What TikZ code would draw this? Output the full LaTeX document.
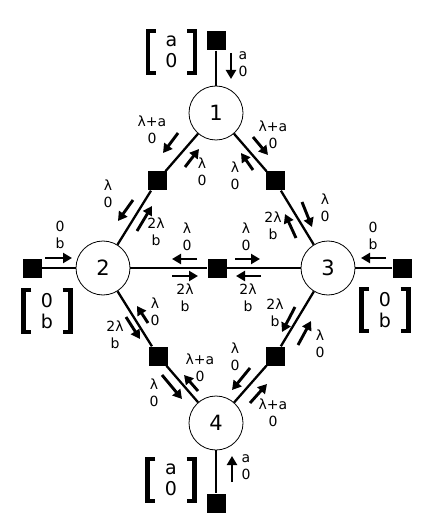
\documentclass[tikz,border=0pt]{standalone}
\usepackage{fontspec}
\setmainfont{DejaVu Sans}
\usetikzlibrary{arrows.meta, calc, positioning}

\tikzset{
  hub/.style={circle, draw, line width=.8pt, fill=white, minimum size=54pt,
    inner sep=0pt, font=\fontsize{21}{24}\selectfont},
  blk/.style={fill=black, minimum size=19pt, inner sep=0pt},
  link/.style={line width=2.3pt},
  flow/.style={->, line width=2.9pt},
  rate/.style={align=center, inner sep=0pt, font=\fontsize{14}{17}\selectfont},
  demand/.style={align=center, inner sep=0pt, minimum width=47pt,
    minimum height=42pt, font=\fontsize{19}{21}\selectfont},
  brk/.style={line width=4.5pt},
}
\newcommand{\demandbrk}[1]{%
  \draw[brk] ([xshift=8pt]#1.north west) -- (#1.north west)
    -- (#1.south west) -- ([xshift=8pt]#1.south west);
  \draw[brk] ([xshift=-8pt]#1.north east) -- (#1.north east)
    -- (#1.south east) -- ([xshift=-8pt]#1.south east);}

\begin{document}
\begin{tikzpicture}[x=1pt, y=-1pt, >={Triangle[length=9pt,width=10pt]}]
\useasboundingbox (0,0) rectangle (432,521);
% stations
\node[hub] (n1) at (216,113) {1};
\node[hub] (n2) at (103,268) {2};
\node[hub] (n3) at (328,268) {3};
\node[hub] (n4) at (216,423) {4};
% inputs
\node[blk] (in1) at (216,41) {};
\node[blk] (in2) at (32,268) {};
\node[blk] (in3) at (402,268) {};
\node[blk] (in4) at (216,503) {};
% midpoints
\node[blk] (m12) at (157,181) {};
\node[blk] (m13) at (275,181) {};
\node[blk] (m23) at (217,268) {};
\node[blk] (m24) at (158,356) {};
\node[blk] (m34) at (275,356) {};
\foreach \a/\b in {in1/n1, n1/m12, m12/n2, n1/m13, m13/n3, in2/n2, n2/m23,
  m23/n3, n3/in3, n2/m24, m24/n4, n3/m34, m34/n4, n4/in4}
  \draw[link] (\a) -- (\b);
% demand vectors
\node[demand] (d1) at (171.5,52) {a\\0};
\node[demand] (d2) at (47,311) {0\\b};
\node[demand] (d3) at (385,310) {0\\b};
\node[demand] (d4) at (171,480) {a\\0};
\foreach \d in {d1,d2,d3,d4} {\demandbrk{\d}}
% flows
\draw[flow] (231,53) -- (231,79);   \node[rate] (r1) at (243,64) {a\\0};
\draw[flow] (178,133) -- (163,153); \node[rate] (r2) at (152,130) {λ+a\\0};
\draw[flow] (185,167) -- (199,149); \node[rate] (r3) at (202,172) {λ\\0};
\draw[flow] (253,137) -- (268,155); \node[rate] (r4) at (273,135) {λ+a\\0};
\draw[flow] (253,170) -- (241,153); \node[rate] (r5) at (235,176) {λ\\0};
\draw[flow] (133,200) -- (118,221); \node[rate] (r6) at (108,194) {λ\\0};
\draw[flow] (137,231) -- (152,206); \node[rate] (r7) at (156,232) {2λ\\b};
\draw[flow] (302,202) -- (312,227); \node[rate] (r8) at (325,208) {λ\\0};
\draw[flow] (296,238) -- (285,214); \node[rate] (r9) at (273,226) {2λ\\b};
\draw[flow] (45,258) -- (72,258);   \node[rate] (r10) at (60,235) {0\\b};
\draw[flow] (197,259) -- (172,259); \node[rate] (r11) at (187,237) {λ\\0};
\draw[flow] (172,276) -- (198,276); \node[rate] (r12) at (185,298) {2λ\\b};
\draw[flow] (235,259) -- (260,259); \node[rate] (r13) at (246,237) {λ\\0};
\draw[flow] (261,276) -- (236,276); \node[rate] (r14) at (248,298) {2λ\\b};
\draw[flow] (386,258) -- (361,258); \node[rate] (r15) at (373,236) {0\\b};
\draw[flow] (148,323) -- (137,306); \node[rate] (r16) at (155,312) {λ\\0};
\draw[flow] (126,317) -- (140,339); \node[rate] (r17) at (115,335) {2λ\\b};
\draw[flow] (162,375) -- (182,399); \node[rate] (r18) at (154,393) {λ\\0};
\draw[flow] (198,391) -- (184,375); \node[rate] (r19) at (200,368) {λ+a\\0};
\draw[flow] (295,307) -- (282,332); \node[rate] (r20) at (275,313) {2λ\\b};
\draw[flow] (298,345) -- (311,321); \node[rate] (r21) at (320,344) {λ\\0};
\draw[flow] (250,368) -- (232,390); \node[rate] (r22) at (235,357) {λ\\0};
\draw[flow] (250,403) -- (267,384); \node[rate] (r23) at (273,413) {λ+a\\0};
\draw[flow] (232,482) -- (232,456); \node[rate] (r24) at (246,467) {a\\0};
\end{tikzpicture}
\end{document}
